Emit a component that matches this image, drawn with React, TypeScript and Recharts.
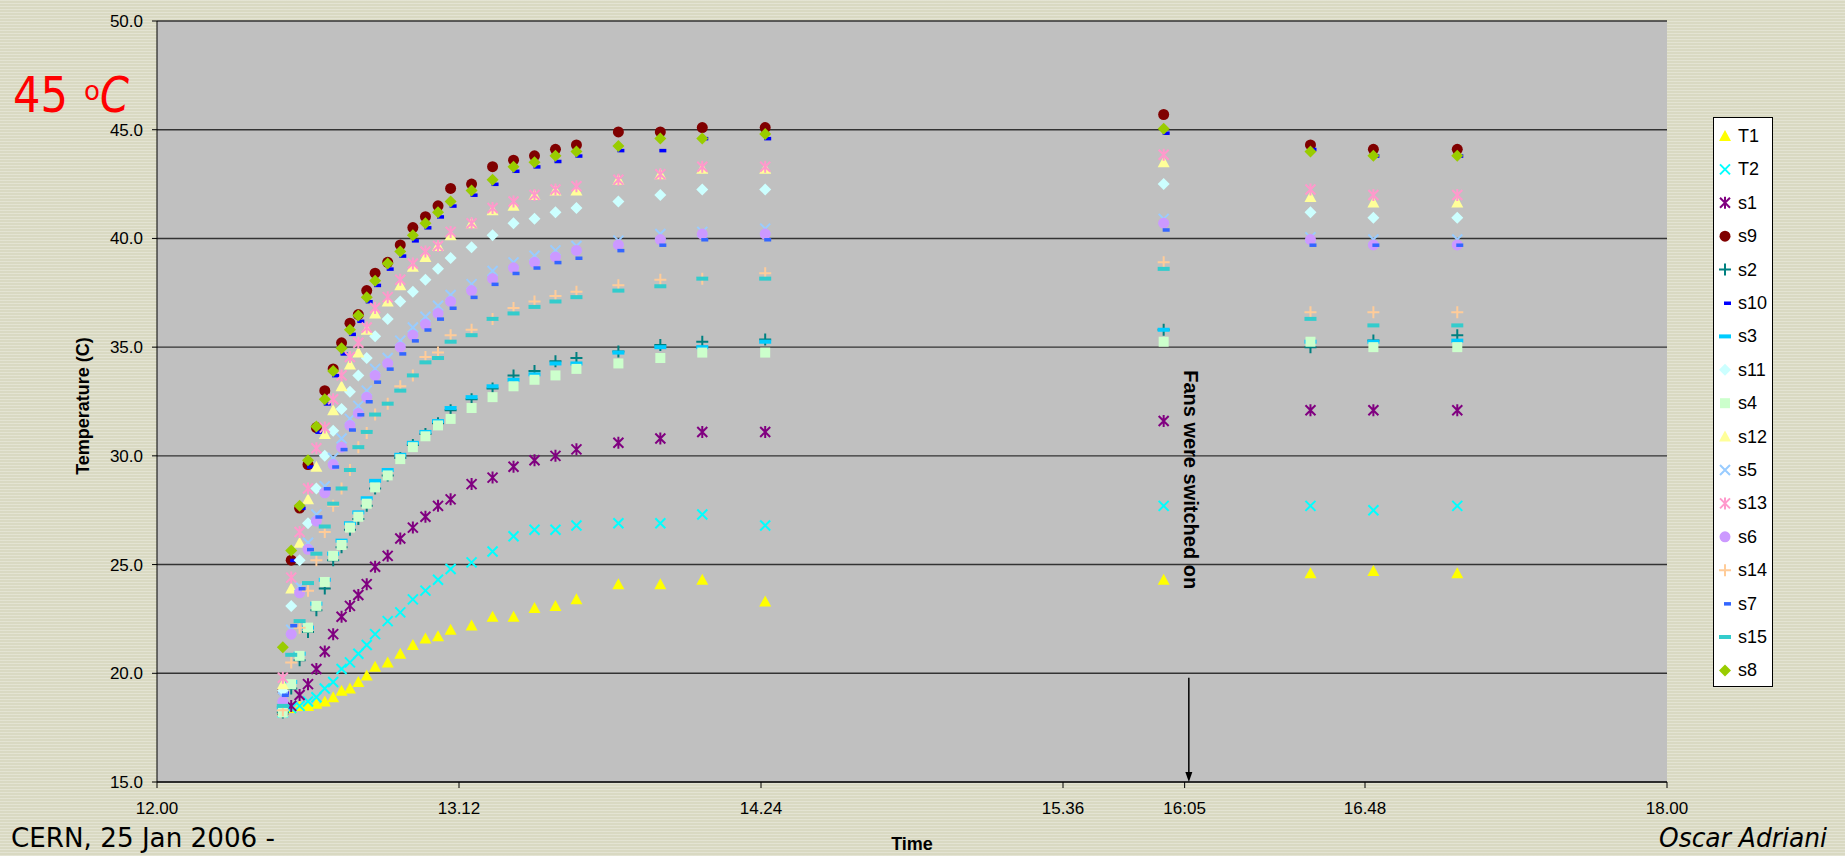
import React from "react";
import { ScatterChart, Scatter, XAxis, YAxis, CartesianGrid, ReferenceLine } from "recharts";

// sample times (hh:mm)
const times = [
  "12:30", "12:32", "12:34", "12:36", "12:38", "12:40", "12:42", "12:44", "12:46", "12:48",
  "12:50", "12:52", "12:55", "12:58", "13:01", "13:04", "13:07", "13:10", "13:15", "13:20",
  "13:25", "13:30", "13:35", "13:40", "13:50", "14:00", "14:10", "14:25", "16:00", "16:35",
  "16:50", "17:10",
];

const xTickLabels = ["12.00", "13.12", "14.24", "15.36", "16:05", "16.48", "18.00"];
const yTicks = [15, 20, 25, 30, 35, 40, 45, 50];
const fansOnAt = "16:06";

const T1 = [18.3, 18.4, 18.5, 18.5, 18.6, 18.7, 18.9, 19.2, 19.3, 19.6, 19.9, 20.3, 20.5, 20.9, 21.3, 21.6, 21.7, 22.0, 22.2, 22.6, 22.6, 23.0, 23.1, 23.4, 24.1, 24.1, 24.3, 23.3, 24.3, 24.6, 24.7, 24.6];
const T2 = [18.2, 18.4, 18.5, 18.7, 18.9, 19.3, 19.6, 20.2, 20.5, 20.9, 21.3, 21.8, 22.4, 22.8, 23.4, 23.8, 24.3, 24.8, 25.1, 25.6, 26.3, 26.6, 26.6, 26.8, 26.9, 26.9, 27.3, 26.8, 27.7, 27.7, 27.5, 27.7];
const s1 = [18.3, 18.5, 19.0, 19.5, 20.2, 21.0, 21.8, 22.6, 23.1, 23.6, 24.1, 24.9, 25.4, 26.2, 26.7, 27.2, 27.7, 28.0, 28.7, 29.0, 29.5, 29.8, 30.0, 30.3, 30.6, 30.8, 31.1, 31.1, 31.6, 32.1, 32.1, 32.1];
const s9 = [19.2, 25.2, 27.6, 29.6, 31.3, 33.0, 34.0, 35.2, 36.1, 36.5, 37.6, 38.4, 38.9, 39.7, 40.5, 41.0, 41.5, 42.3, 42.5, 43.3, 43.6, 43.8, 44.1, 44.3, 44.9, 44.9, 45.1, 45.1, 45.7, 44.3, 44.1, 44.1];
const s2 = [18.2, 19.3, 20.6, 21.9, 22.9, 23.9, 25.2, 25.8, 26.6, 27.1, 27.7, 28.5, 29.1, 29.9, 30.5, 31.0, 31.5, 32.1, 32.6, 33.1, 33.7, 33.9, 34.35, 34.5, 34.8, 35.1, 35.25, 35.35, 35.8, 35.0, 35.3, 35.55];
const s10 = [19.1, 25.2, 27.6, 29.5, 31.1, 32.4, 33.7, 34.7, 35.6, 36.2, 37.1, 37.85, 38.6, 39.2, 39.9, 40.5, 41.0, 41.5, 42.0, 42.5, 43.1, 43.3, 43.55, 43.8, 44.05, 44.05, 44.6, 44.6, 44.85, 44.1, 43.8, 43.8];
const s3 = [18.4, 19.6, 20.9, 22.1, 23.2, 24.3, 25.5, 26.1, 26.9, 27.4, 28.05, 28.85, 29.35, 30.05, 30.6, 31.1, 31.6, 32.2, 32.7, 33.2, 33.5, 33.75, 34.25, 34.25, 34.75, 35.0, 35.0, 35.25, 35.8, 35.25, 35.25, 35.3];
const s11 = [19.2, 23.1, 25.2, 26.9, 28.5, 30.0, 31.15, 32.15, 32.95, 33.7, 34.5, 35.5, 36.3, 37.1, 37.55, 38.1, 38.6, 39.1, 39.6, 40.15, 40.7, 40.9, 41.2, 41.4, 41.7, 42.0, 42.25, 42.25, 42.5, 41.2, 40.95, 40.95];
const s4 = [18.2, 19.5, 20.8, 22.1, 23.1, 24.2, 25.4, 25.9, 26.7, 27.2, 27.8, 28.55, 29.1, 29.85, 30.4, 30.9, 31.4, 31.7, 32.2, 32.7, 33.2, 33.5, 33.7, 34.0, 34.25, 34.5, 34.75, 34.75, 35.25, 35.25, 35.0, 35.0];
const s12 = [19.5, 23.9, 26.0, 28.0, 29.5, 31.0, 32.1, 33.2, 34.2, 34.75, 35.8, 36.55, 37.1, 37.85, 38.7, 39.15, 39.65, 40.15, 40.7, 41.3, 41.5, 42.0, 42.2, 42.2, 42.7, 42.95, 43.2, 43.2, 43.5, 41.9, 41.65, 41.65];
const s5 = [18.9, 22.0, 24.0, 26.0, 27.3, 28.6, 29.9, 30.8, 31.7, 32.3, 33.0, 34.0, 34.5, 35.3, 35.9, 36.4, 36.9, 37.4, 37.9, 38.5, 38.9, 39.2, 39.45, 39.65, 39.9, 40.2, 40.3, 40.45, 40.9, 40.05, 39.95, 39.95];
const s13 = [19.8, 24.4, 26.5, 28.5, 30.35, 31.3, 32.6, 33.7, 34.55, 35.2, 35.9, 36.8, 37.3, 38.1, 38.85, 39.4, 39.65, 40.3, 40.7, 41.4, 41.7, 42.0, 42.25, 42.4, 42.7, 42.95, 43.3, 43.3, 43.85, 42.25, 42.0, 42.0];
const s6 = [18.7, 21.8, 23.7, 25.7, 27.0, 28.3, 29.6, 30.4, 31.4, 31.95, 32.7, 33.7, 34.25, 35.0, 35.55, 36.05, 36.55, 37.1, 37.6, 38.15, 38.65, 38.9, 39.15, 39.45, 39.7, 39.95, 40.2, 40.2, 40.7, 39.95, 39.7, 39.7];
const s14 = [18.3, 20.5, 22.1, 23.8, 25.2, 26.5, 27.7, 28.5, 29.35, 30.4, 31.05, 31.9, 32.4, 33.2, 33.7, 34.55, 34.75, 35.55, 35.8, 36.3, 36.8, 37.1, 37.35, 37.55, 37.85, 38.1, 38.15, 38.4, 38.9, 36.6, 36.6, 36.6];
const s7 = [19.0, 22.2, 23.9, 25.7, 27.2, 28.5, 29.5, 30.3, 31.2, 31.9, 32.5, 33.4, 34.0, 34.7, 35.3, 35.8, 36.3, 36.8, 37.3, 37.9, 38.4, 38.65, 38.9, 39.1, 39.45, 39.7, 39.95, 39.95, 40.4, 39.7, 39.7, 39.7];
const s15 = [18.5, 20.85, 22.4, 24.15, 25.5, 26.75, 27.8, 28.5, 29.35, 30.4, 31.1, 31.9, 32.4, 33.0, 33.7, 34.3, 34.5, 35.25, 35.55, 36.3, 36.55, 36.85, 37.1, 37.3, 37.6, 37.8, 38.15, 38.15, 38.6, 36.3, 36.0, 36.0];
const s8 = [21.2, 25.65, 27.7, 29.8, 31.35, 32.6, 33.9, 34.95, 35.8, 36.45, 37.3, 38.05, 38.85, 39.4, 40.15, 40.7, 41.2, 41.7, 42.2, 42.7, 43.3, 43.5, 43.8, 44.0, 44.25, 44.6, 44.6, 44.8, 45.05, 44.0, 43.8, 43.8];

const series = [
  { name: "T1", values: T1, color: "#FFFF00", kind: "triangle" },
  { name: "T2", values: T2, color: "#00FFFF", kind: "x" },
  { name: "s1", values: s1, color: "#800080", kind: "asterisk" },
  { name: "s9", values: s9, color: "#800000", kind: "circle" },
  { name: "s2", values: s2, color: "#008080", kind: "plus" },
  { name: "s10", values: s10, color: "#0000FF", kind: "dashS" },
  { name: "s3", values: s3, color: "#00CCFF", kind: "dashL" },
  { name: "s11", values: s11, color: "#CCFFFF", kind: "diamond" },
  { name: "s4", values: s4, color: "#CCFFCC", kind: "square" },
  { name: "s12", values: s12, color: "#FFFF99", kind: "triangle" },
  { name: "s5", values: s5, color: "#99CCFF", kind: "x" },
  { name: "s13", values: s13, color: "#FF99CC", kind: "asterisk" },
  { name: "s6", values: s6, color: "#CC99FF", kind: "circle" },
  { name: "s14", values: s14, color: "#FFCC99", kind: "plus" },
  { name: "s7", values: s7, color: "#3366FF", kind: "dashS" },
  { name: "s15", values: s15, color: "#33CCCC", kind: "dashL" },
  { name: "s8", values: s8, color: "#99CC00", kind: "diamond" },
];

const toHours = (s: string) => {
  const [h, m] = s.split(/[.:]/).map(Number);
  return h + m / 60;
};

const xTicks = xTickLabels.map(toHours);
const ARIAL = "'Liberation Sans', Arial, sans-serif";
const COMIC = "'Comic Sans MS', 'DejaVu Sans', sans-serif";

function Marker({ kind, color, cx, cy }: { kind: string; color: string; cx: number; cy: number }) {
  switch (kind) {
    case "triangle":
      return <polygon points={`${cx},${cy - 6} ${cx + 6},${cy + 5} ${cx - 6},${cy + 5}`} fill={color} />;
    case "x":
      return (
        <path d={`M${cx - 5},${cy - 5}L${cx + 5},${cy + 5}M${cx - 5},${cy + 5}L${cx + 5},${cy - 5}`} stroke={color} strokeWidth={2} />
      );
    case "asterisk":
      return (
        <path
          d={`M${cx - 5},${cy - 5}L${cx + 5},${cy + 5}M${cx - 5},${cy + 5}L${cx + 5},${cy - 5}M${cx},${cy - 6}L${cx},${cy + 6}`}
          stroke={color}
          strokeWidth={2}
        />
      );
    case "circle":
      return <circle cx={cx} cy={cy} r={5.5} fill={color} />;
    case "plus":
      return <path d={`M${cx - 6},${cy}L${cx + 6},${cy}M${cx},${cy - 6}L${cx},${cy + 6}`} stroke={color} strokeWidth={2} />;
    case "dashS":
      return <rect x={cx - 1} y={cy - 1.5} width={7} height={3.5} fill={color} />;
    case "dashL":
      return <rect x={cx - 6} y={cy - 2} width={12} height={4} fill={color} />;
    case "diamond":
      return <polygon points={`${cx},${cy - 6} ${cx + 6},${cy} ${cx},${cy + 6} ${cx - 6},${cy}`} fill={color} />;
    case "square":
      return <rect x={cx - 5} y={cy - 5} width={10} height={10} fill={color} />;
    default:
      return null;
  }
}

const FanArrow = (p: any) => {
  const { x1, y1, x2, y2 } = p;
  return (
    <g>
      <line x1={x1} y1={y1} x2={x2} y2={y2 - 8} stroke="#000" strokeWidth={1.5} />
      <polygon points={`${x2 - 3.5},${y2 - 10} ${x2 + 3.5},${y2 - 10} ${x2},${y2}`} fill="#000" />
      <text
        transform={`translate(${x1 - 5},${y1 - 198}) rotate(90)`}
        textAnchor="middle"
        fontFamily={ARIAL}
        fontWeight="bold"
        fontSize={20}
        fill="#000"
      >
        Fans were switched on
      </text>
    </g>
  );
};

export default function App() {
  const fanT = toHours(fansOnAt);
  return (
    <div
      style={{
        position: "absolute",
        left: 0,
        top: 0,
        width: 1845,
        height: 856,
        overflow: "hidden",
        backgroundColor: "#D9D9C2",
        backgroundImage:
          "repeating-linear-gradient(0deg, rgba(255,255,255,0.28) 0px, rgba(255,255,255,0.28) 1px, transparent 1px, transparent 3px)",
      }}
    >
      <ScatterChart width={1845} height={856} margin={{ top: 21, right: 178, bottom: 44, left: 97 }}>
        <CartesianGrid vertical={false} fill="#C0C0C0" fillOpacity={1} stroke="#333" strokeWidth={1.4} />
        <XAxis
          type="number"
          dataKey="t"
          domain={[12, 18]}
          ticks={xTicks}
          interval={0}
          allowDataOverflow
          tickFormatter={(v: number) => {
            const i = xTicks.findIndex((t) => Math.abs(t - v) < 1e-6);
            return i >= 0 ? xTickLabels[i] : "";
          }}
          height={30}
          tickSize={6}
          tickMargin={14}
          stroke="#000"
          tick={{ fill: "#000", fontSize: 17, fontFamily: ARIAL }}
        />
        <YAxis
          type="number"
          dataKey="v"
          domain={[15, 50]}
          ticks={yTicks}
          interval={0}
          allowDataOverflow
          tickFormatter={(v: number) => v.toFixed(1)}
          width={60}
          tickSize={5}
          tickMargin={9}
          stroke="#000"
          tick={{ fill: "#000", fontSize: 17, fontFamily: ARIAL }}
        />
        <ReferenceLine
          segment={[
            { x: fanT, y: 19.8 },
            { x: fanT, y: 15 },
          ]}
          ifOverflow="visible"
          shape={FanArrow}
        />
        {series.map((s) => (
          <Scatter
            key={s.name}
            name={s.name}
            data={times.map((t, i) => ({ t: toHours(t), v: s.values[i] }))}
            isAnimationActive={false}
            shape={(p: any) => <Marker kind={s.kind} color={s.color} cx={p.cx} cy={p.cy} />}
          />
        ))}
      </ScatterChart>

      <svg width={1845} height={856} style={{ position: "absolute", left: 0, top: 0, pointerEvents: "none" }}>
        <text x={13} y={112} fill="#FF0000" fontFamily={COMIC} fontSize={50} textLength={55} lengthAdjust="spacingAndGlyphs">
          45
        </text>
        <text x={84} y={100} fill="#FF0000" fontFamily={COMIC} fontSize={26}>
          o
        </text>
        <text x={100} y={112} fill="#FF0000" fontFamily={COMIC} fontSize={50} fontStyle="italic" textLength={29} lengthAdjust="spacingAndGlyphs">
          C
        </text>
        <text x={11} y={847} fill="#000" fontFamily={COMIC} fontSize={26} textLength={264} lengthAdjust="spacingAndGlyphs">
          CERN, 25 Jan 2006 -
        </text>
        <text x={1659} y={847} fill="#000" fontFamily={COMIC} fontSize={26} fontStyle="italic" textLength={168} lengthAdjust="spacingAndGlyphs">
          Oscar Adriani
        </text>
        <text x={912} y={850} textAnchor="middle" fill="#000" fontFamily={ARIAL} fontWeight="bold" fontSize={18}>
          Time
        </text>
        <text
          transform="translate(89,406) rotate(-90)"
          textAnchor="middle"
          fill="#000"
          fontFamily={ARIAL}
          fontWeight="bold"
          fontSize={18}
        >
          Temperature (C)
        </text>
      </svg>

      <div
        style={{
          position: "absolute",
          left: 1713,
          top: 117,
          width: 60,
          height: 570,
          background: "#FFFFFF",
          border: "1px solid #000",
          boxSizing: "border-box",
        }}
      >
        <svg width={58} height={568}>
          {series.map((s, i) => {
            const cy = 18 + i * 33.4;
            return (
              <g key={s.name}>
                <Marker kind={s.kind} color={s.color} cx={11} cy={cy} />
                <text x={24} y={cy + 6} fontFamily={ARIAL} fontSize={18} fill="#000">
                  {s.name}
                </text>
              </g>
            );
          })}
        </svg>
      </div>
    </div>
  );
}
